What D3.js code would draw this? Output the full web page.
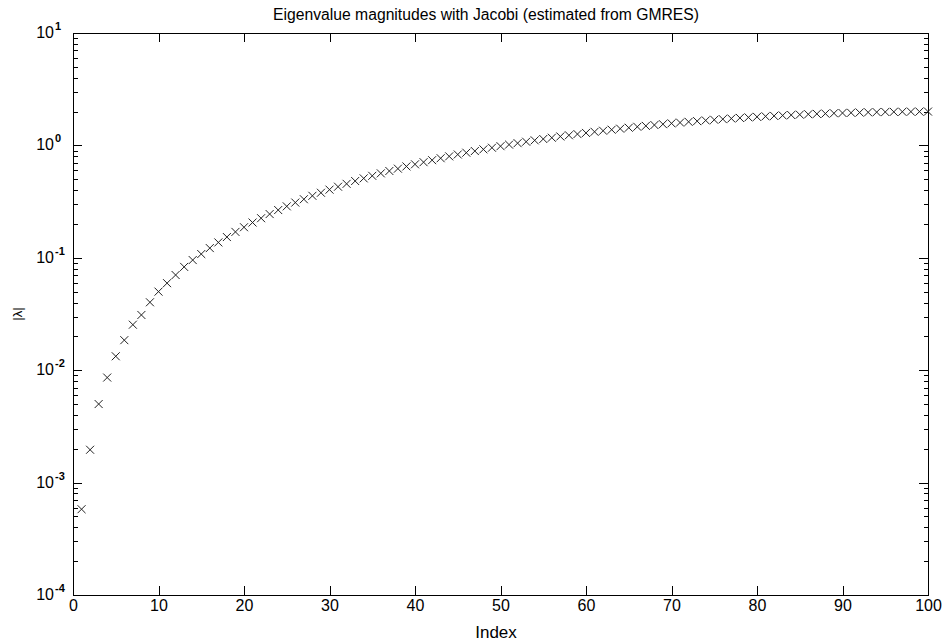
<!DOCTYPE html>
<html>
<head>
<meta charset="utf-8">
<script src="https://cdn.jsdelivr.net/npm/d3@7"></script>
<style>
  body { margin: 0; background: #fff; }
  svg { display: block; }
  text { font-family: "Liberation Sans", Arial, sans-serif; fill: #000; }
  .axis path, .axis line { stroke: #000; shape-rendering: crispEdges; }
</style>
</head>
<body>
<svg id="chart" width="945" height="644"></svg>
<script>
// Eigenvalue magnitudes, index 1..100
const indices = d3.range(1, 101);
const magnitudes = [
  0.00058, 0.00196, 0.0050, 0.0086, 0.0133, 0.0185, 0.0254, 0.0310, 0.0402, 0.0500,
  0.0595, 0.0703, 0.0830, 0.0955, 0.108, 0.122, 0.137, 0.153, 0.170, 0.187,
  0.206, 0.225, 0.245, 0.266, 0.287, 0.310, 0.332, 0.356, 0.379, 0.404,
  0.429, 0.455, 0.482, 0.509, 0.536, 0.564, 0.592, 0.621, 0.650, 0.679,
  0.709, 0.739, 0.769, 0.799, 0.830, 0.861, 0.891, 0.922, 0.953, 0.984,
  1.016, 1.047, 1.078, 1.109, 1.140, 1.170, 1.201, 1.231, 1.261, 1.291,
  1.321, 1.350, 1.379, 1.408, 1.436, 1.464, 1.491, 1.518, 1.545, 1.571,
  1.596, 1.621, 1.644, 1.668, 1.690, 1.713, 1.734, 1.755, 1.775, 1.794,
  1.813, 1.830, 1.847, 1.863, 1.879, 1.893, 1.907, 1.919, 1.931, 1.942,
  1.952, 1.961, 1.969, 1.976, 1.983, 1.988, 1.992, 1.996, 1.998, 2.000
];
const xTicks = d3.range(0, 101, 10);
const yDecades = [1e-4, 1e-3, 1e-2, 1e-1, 1e0, 1e1];
const yExponents = ["-4", "-3", "-2", "-1", "0", "1"];

const svg = d3.select("#chart");
const plotLeft = 73, plotRight = 928, plotTop = 33, plotBottom = 595;

const x = d3.scaleLinear().domain([0, 100]).range([plotLeft, plotRight]);
const y = d3.scaleLog().domain([1e-4, 10]).range([plotBottom, plotTop]);

// minor ticks 2..9 for every decade
const yMinor = [];
yDecades.slice(0, -1).forEach(d => {
  for (let m = 2; m <= 9; m++) yMinor.push(d * m);
});

// Bottom axis with labels
const xAxis = svg.append("g")
  .attr("class", "axis")
  .attr("transform", `translate(0,${plotBottom})`)
  .call(d3.axisBottom(x).tickValues(xTicks).tickSize(-9).tickPadding(5).tickFormat(d3.format("d")));
xAxis.select(".domain").remove();
xAxis.selectAll("text").attr("font-size", "16px");

// Top axis (ticks only)
const xTop = svg.append("g")
  .attr("class", "axis")
  .attr("transform", `translate(0,${plotTop})`)
  .call(d3.axisTop(x).tickValues(xTicks).tickSize(-9).tickFormat(""));
xTop.select(".domain").remove();

// Left / right major + minor ticks
[[d3.axisLeft, plotLeft], [d3.axisRight, plotRight]].forEach(([axisFn, pos]) => {
  const gMaj = svg.append("g")
    .attr("class", "axis")
    .attr("transform", `translate(${pos},0)`)
    .call(axisFn(y).tickValues(yDecades).tickSize(-9).tickFormat(""));
  gMaj.select(".domain").remove();
  const gMin = svg.append("g")
    .attr("class", "axis")
    .attr("transform", `translate(${pos},0)`)
    .call(axisFn(y).tickValues(yMinor).tickSize(-4.5).tickFormat(""));
  gMin.select(".domain").remove();
});

// Box
svg.append("rect")
  .attr("x", plotLeft).attr("y", plotTop)
  .attr("width", plotRight - plotLeft).attr("height", plotBottom - plotTop)
  .attr("fill", "none").attr("stroke", "#000")
  .attr("shape-rendering", "crispEdges");

// Y tick labels: 10 with superscript exponent
const yLabels = svg.append("g");
yDecades.forEach((d, i) => {
  yLabels.append("text")
    .attr("x", 54).attr("y", y(d) + 5)
    .attr("text-anchor", "end")
    .attr("font-size", "16px")
    .text("10");
  yLabels.append("text")
    .attr("x", 55).attr("y", y(d) - 3)
    .attr("font-size", "11px")
    .attr("font-weight", "bold")
    .text(yExponents[i]);
});

// Data markers (x)
const s = 4;
svg.append("g")
  .selectAll("path")
  .data(indices.map((k, i) => [k, magnitudes[i]]))
  .join("path")
  .attr("d", d => {
    const cx = x(d[0]), cy = y(d[1]);
    return `M${cx - s},${cy - s}L${cx + s},${cy + s}M${cx - s},${cy + s}L${cx + s},${cy - s}`;
  })
  .attr("stroke", "#222")
  .attr("stroke-width", 1)
  .attr("fill", "none");

// Title and axis labels
svg.append("text")
  .attr("x", 273).attr("y", 20)
  .attr("font-size", "16px")
  .attr("textLength", 426)
  .attr("lengthAdjust", "spacingAndGlyphs")
  .text("Eigenvalue magnitudes with Jacobi (estimated from GMRES)");

svg.append("text")
  .attr("x", 496).attr("y", 638)
  .attr("text-anchor", "middle")
  .attr("font-size", "17px")
  .text("Index");

svg.append("text")
  .attr("transform", `translate(22,${(plotTop + plotBottom) / 2}) rotate(-90)`)
  .attr("text-anchor", "middle")
  .attr("font-size", "13px")
  .text("|λ|");
</script>
</body>
</html>
